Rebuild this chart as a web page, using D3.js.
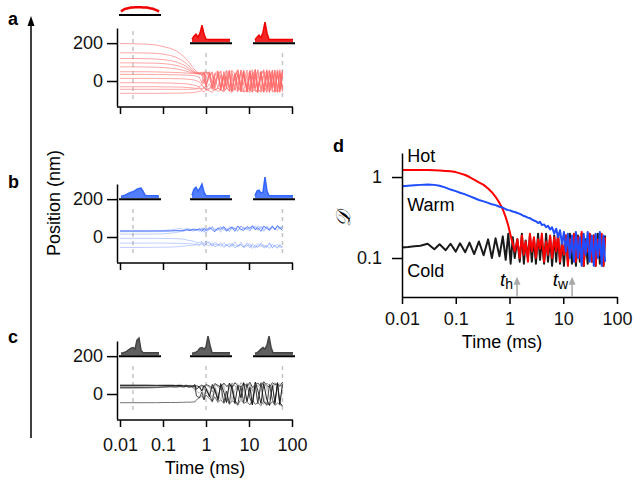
<!DOCTYPE html>
<html>
<head>
<meta charset="utf-8">
<script src="https://cdnjs.cloudflare.com/ajax/libs/d3/7.8.5/d3.min.js"></script>
<style>
body { margin: 0; background: #fff; }
svg { font-family: "Liberation Sans", Arial, sans-serif; }
</style>
</head>
<body>
<svg width="641" height="491"></svg>
<script>
// panels a-c: position traces (nm) on a shared time grid (ms)
const traceTimes = [0.01, 0.02, 0.04, 0.07, 0.1, 0.15, 0.2, 0.25, 0.3, 0.35, 0.4, 0.45, 0.5, 0.55, 0.6,
    0.7, 0.8, 0.9, 1, 1.2, 1.4, 1.6, 1.9, 2.2, 2.6, 3, 3.5, 4, 4.7, 5.5, 6.5, 7.5, 9, 10.5, 12, 14, 16,
    19, 22, 26, 30, 35, 40, 46, 52, 60];

const hotTraces = [
    [198,197,195,190,182,172,160,145,130,115,100,85,70,58,50, 42,30,45,20,50,-10,40,55,-30,45,10,58,-40,35,60,-20,50,-55,40,15,60,-45,30,55,-60,45,-25,58,-50,40,-35],
    [149,149,148,146,142,135,126,115,103,92,80,68,57,49,45, 40,48,35,50,25,45,-15,40,52,-35,30,55,-45,20,58,-30,45,-55,35,60,-40,25,50,-58,42,-20,55,-48,38,60,-30],
    [119,119,118,116,113,108,101,93,85,76,67,58,50,45,42, 38,45,30,48,40,-20,35,50,-40,25,55,-50,40,15,-45,58,30,-60,50,-25,45,-55,35,60,-40,20,55,-58,45,-30,50],
    [96,96,95,94,92,88,83,77,71,65,58,52,47,44,42, 45,35,50,-10,42,30,-35,48,20,-45,55,35,-50,40,-20,58,-55,30,50,-40,60,-30,45,-58,35,55,-45,20,60,-50,40],
    [75,75,74,73,71,68,64,60,56,52,48,45,43,42,40, 35,42,-15,38,45,-30,40,25,-45,50,-20,42,55,-50,35,-40,58,20,-55,45,-35,60,-50,30,55,-60,40,-25,50,-45,58],
    [49,49,49,48,47,46,45,44,43,42,41,40,40,39,38, 40,30,45,-25,35,48,-40,30,52,-45,25,-30,55,40,-55,45,-20,58,-50,35,60,-40,50,-58,25,55,-35,45,-60,40,-50],
    [35,35,35,34,34,33,33,32,32,31,30,30,29,28,25, 20,-10,35,-30,40,-40,25,45,-45,30,-35,50,-50,20,55,-55,40,-25,58,-45,35,-60,50,-30,60,-50,25,-55,45,-40,55],
    [14,14,14,14,13,13,12,12,11,10,9,8,6,4,2, -5,-20,10,-30,25,-40,-15,35,-45,20,-35,40,-50,-25,45,-55,30,-40,50,-58,15,55,-45,-60,40,-30,58,-50,35,-55,50],
    [-9,-9,-9,-10,-10,-11,-12,-13,-14,-15,-17,-19,-21,-23,-25, -30,-20,-35,-40,-15,-45,20,-38,-50,30,-42,-25,-55,40,-45,-30,50,-58,-20,45,-50,-60,35,-40,55,-55,-25,58,-45,-60,40],
    [-30,-30,-30,-30,-31,-31,-32,-32,-33,-34,-35,-36,-37,-38,-39, -35,-42,-30,-45,-38,-20,-48,-35,30,-50,-40,-55,20,-45,-30,-58,45,-50,-35,-60,40,-45,-55,50,-30,-60,35,-50,-40,55,-58],
    [-44,-44,-44,-44,-44,-44,-44,-44,-44,-44,-44,-43,-43,-42,-42, -40,-45,-35,-48,-42,-30,-50,-38,-45,-52,10,-40,-55,-30,35,-50,-58,-40,40,-55,-45,-60,30,-50,-35,55,-58,-45,-60,45,-50],
    [-65,-65,-65,-65,-65,-64,-64,-64,-63,-63,-62,-62,-61,-60,-58, -55,-50,-58,-45,-52,-60,-40,-55,-48,-58,-35,-50,-60,-42,-55,-25,-58,-50,-60,20,-55,-45,-60,-30,-58,40,-52,-60,-45,-58,30]
];

const warmTraces = [
    [32,32,32,32,32,33,34,33,35,38,34,36,40,35,38, 42,30,45,35,50,38,28,48,40,55,32,45,52,30,58,40,35,55,45,60,38,50,30,58,45,35,55,40,60,48,35],
    [15,15,15,16,17,20,24,28,33,38,42,40,36,42,38, 30,45,35,20,42,50,38,45,25,52,40,35,55,45,30,58,42,50,35,55,40,60,45,30,52,38,58,45,35,55,42],
    [-7,-7,-7,-7,-8,-8,-9,-10,-12,-15,-18,-20,-22,-25,-28, -30,-25,-38,-20,-35,-45,-28,-40,-50,-30,-45,-35,-52,-25,-48,-40,-55,-30,-50,-45,-58,-35,-50,-42,-55,-30,-58,-45,-40,-55,-50],
    [-32,-32,-32,-32,-32,-33,-33,-34,-34,-35,-35,-36,-37,-38,-36, -40,-30,-45,-35,-25,-48,-38,-42,-30,-50,-40,-55,-35,-45,-52,-28,-50,-40,-58,-35,-48,-55,-30,-52,-45,-60,-38,-50,-55,-42,-58],
    [-55,-55,-55,-54,-54,-53,-52,-50,-48,-46,-45,-44,-43,-42,-40, -45,-35,-50,-40,-48,-30,-52,-45,-38,-55,-42,-50,-35,-58,-45,-40,-55,-48,-35,-60,-45,-52,-40,-58,-50,-35,-55,-45,-60,-40,-52],
    [32,32,32,33,35,38,42,45,40,46,42,38,44,40,36, 45,38,50,32,44,55,40,35,52,45,30,55,42,48,35,58,45,38,55,42,60,35,50,45,58,40,52,38,60,45,50],
    [28,28,28,28,29,30,32,34,30,36,40,35,30,38,42, 35,48,25,42,38,52,30,45,55,35,48,28,50,42,58,35,52,45,30,55,48,40,58,35,50,45,60,38,55,42,58]
];

const coldTraces = [
    [47,47,47,46,46,46,45,45,44,44,43,43,42,40,44, 38,48,35,50,42,30,55,45,38,58,40,50,32,60,45,38,55,42,62,35,50,58,40,65,45,35,60,48,55,40,62],
    [30,30,31,33,36,40,38,42,36,40,35,38,32,20,45, 30,42,20,48,35,10,50,38,25,55,42,30,58,45,20,60,48,35,55,15,62,40,50,30,58,45,25,60,42,55,35],
    [-46,-46,-46,-46,-45,-45,-45,-44,-44,-43,-43,-43,-42,-42,-30, -20,-10,-30,-5,-25,-40,-15,-45,-30,-50,-20,-55,-35,-45,-60,-25,-50,-40,-58,-30,-55,-45,-62,-35,-50,-58,-40,-60,-48,-55,-65],
    [42,42,43,45,48,50,46,52,44,50,40,48,38,30,15, 5,25,-10,35,10,-20,40,0,-30,45,-15,50,-35,20,55,-40,30,-50,45,-25,58,-45,35,-55,50,-30,60,-50,40,-60,55],
    [35,35,35,36,37,38,37,39,38,40,37,39,36,45,-10, -20,10,-30,25,-5,-40,30,-25,45,-45,15,-50,50,-35,-55,40,-45,55,-20,-58,45,-50,60,-40,-60,50,-30,-55,58,-45,-62],
    [44,44,44,44,44,44,44,44,43,43,43,42,42,50,25, 40,15,45,30,-15,50,20,-35,55,10,-45,58,30,-50,45,-20,60,-40,35,-55,62,20,-50,55,-30,-60,45,-45,60,-55,50]
];

const markerTimes = [0.02, 1, 60];

// position histograms at the three marker times (relative height)
const histHot = [
    [0.12,0.2,0.25,0.28,0.3,0.32,0.33,0.34,0.34,0.34,0.34,0.33,0.33,0.32,0.3,0.28,0.26,0.22,0.18,0.12],
    [0.15,0.3,0.4,0.25,0.45,0.85,0.4,0.15,0.13,0.13,0.13,0.13,0.13,0.13,0.13,0.13,0.13,0.13,0.13,0.13],
    [0.12,0.25,0.35,0.22,0.5,1.0,0.45,0.14,0.13,0.13,0.13,0.13,0.13,0.13,0.13,0.13,0.13,0.13,0.13,0.13]
];
const histWarm = [
    [0.1,0.12,0.15,0.2,0.25,0.3,0.32,0.38,0.45,0.48,0.5,0.35,0.15,0.12,0.12,0.12,0.12,0.12,0.12,0.1],
    [0.15,0.45,0.55,0.35,0.5,0.7,0.3,0.13,0.12,0.12,0.12,0.12,0.12,0.12,0.12,0.12,0.12,0.12,0.12,0.12],
    [0.12,0.35,0.4,0.25,0.3,1.05,0.35,0.12,0.12,0.12,0.12,0.12,0.12,0.12,0.12,0.12,0.12,0.12,0.12,0.12]
];
const histCold = [
    [0.1,0.12,0.15,0.2,0.28,0.35,0.38,0.3,0.75,0.85,0.25,0.12,0.12,0.12,0.12,0.12,0.12,0.12,0.12,0.12],
    [0.1,0.12,0.15,0.22,0.35,0.38,0.3,0.4,0.95,0.5,0.12,0.12,0.12,0.12,0.12,0.12,0.12,0.12,0.12,0.12],
    [0.1,0.12,0.2,0.3,0.38,0.3,0.5,0.95,0.4,0.12,0.12,0.12,0.12,0.12,0.12,0.12,0.12,0.12,0.12,0.12]
];

const posTicks = [0, 200];
const timeTicks = [0.01, 0.1, 1, 10, 100];
const timeLabels = ["0.01", "0.1", "1", "10", "100"];

// panel d
const dTimes = [0.01, 0.013, 0.017, 0.022, 0.03, 0.04, 0.05, 0.065, 0.08, 0.1, 0.12, 0.15, 0.18, 0.22,
    0.27, 0.33, 0.4, 0.47, 0.55, 0.65, 0.75, 0.85, 0.95, 1.05, 1.15, 1.25, 1.4, 1.55, 1.7, 1.85, 2, 2.2,
    2.4, 2.6, 2.85, 3.1, 3.4, 3.7, 4, 4.4, 4.8, 5.2, 5.7, 6.2, 6.8, 7.4, 8, 8.7, 9.5, 10.3, 11.2, 12.2,
    13.3, 14.5, 15.8, 17.2, 18.7, 20.3, 22, 24, 26, 28.5, 31, 34, 37, 40, 44, 48, 52, 56, 60];

const dHot = [1.22,1.22,1.22,1.22,1.22,1.21,1.2,1.19,1.18,1.15,1.11,1.06,1.0,0.93,0.86,0.8,0.72,0.65,
    0.57,0.48,0.4,0.32,0.25,0.19,0.15,
    0.12,0.17,0.1,0.19,0.11,0.16,0.09,0.2,0.12,0.18,0.1,0.17,0.13,0.2,0.09,0.16,0.11,0.19,0.1,0.18,
    0.12,0.2,0.09,0.15,0.11,0.19,0.08,0.17,0.12,0.2,0.09,0.18,0.1,0.21,0.08,0.16,0.12,0.2,0.09,0.19,
    0.08,0.17,0.11,0.2,0.08,0.18];

const dWarm = [0.77,0.78,0.79,0.8,0.81,0.8,0.78,0.74,0.7,0.67,0.64,0.61,0.58,0.55,0.52,0.5,0.48,0.46,
    0.45,0.43,0.42,0.4,0.39,0.385,0.375,0.37,0.36,0.35,0.34,0.33,0.325,0.315,0.31,0.3,0.29,0.285,0.27,
    0.28,0.255,0.26,0.24,0.25,0.225,0.24,0.2,0.23,0.18,0.22,0.15,0.21,0.12,0.2,0.1,0.19,0.09,0.21,0.1,
    0.18,0.08,0.2,0.11,0.21,0.09,0.19,0.08,0.2,0.1,0.21,0.08,0.19,0.09];

const dCold = [0.135,0.137,0.14,0.142,0.15,0.128,0.148,0.125,0.15,0.12,0.152,0.118,0.155,0.112,0.16,
    0.108,0.17,0.1,0.175,0.105,0.185,0.095,0.2,0.085,0.18,0.1,0.17,0.09,0.2,0.085,0.165,0.1,0.19,0.09,
    0.175,0.085,0.2,0.095,0.17,0.085,0.2,0.09,0.18,0.08,0.19,0.09,0.2,0.085,0.17,0.08,0.19,0.09,0.2,
    0.085,0.18,0.08,0.19,0.09,0.2,0.08,0.17,0.085,0.2,0.09,0.19,0.08,0.2,0.085,0.18,0.08,0.19];

const dTicks = [0.1, 1];
const dTickLabels = ["0.1", "1"];
const seriesNames = ["Hot", "Warm", "Cold"];
const arrowTimes = [1.38, 14.6];
const arrowSubs = ["h", "w"];

let svg = d3.select("svg");

let xScale = d3.scaleLog().domain([0.01, 100]).range([120, 292]);
let panelTops = [28, 184, 341];
let plotH = 78;
let insetX = [120, 191, 254];
let coldColors = ["#222", "#999", "#666", "#bbb", "#333", "#111"];

let panels = [
    {letter: "a", traces: hotTraces, hists: histHot, fill: "#f00000"},
    {letter: "b", traces: warmTraces, hists: histWarm, fill: "#3366ff"},
    {letter: "c", traces: coldTraces, hists: histCold, fill: "#444"}
];

let styleAxis = (g) => {
    g.attr("font-size", 18).attr("font-family", null);
    g.selectAll("path, line").attr("stroke", "#000").attr("stroke-width", 1.5);
    g.selectAll("text").attr("fill", "#111");
};

let drawPanel = (p, k) => {
    let top = panelTops[k];
    let yScale = d3.scaleLinear().domain([-132, 280]).range([top + plotH, top]);
    let g = svg.append("g");

    g.selectAll("line.marker")
        .data(markerTimes)
        .enter()
        .append("line")
        .attr("x1", d => xScale(d))
        .attr("x2", d => xScale(d))
        .attr("y1", (d, i) => (k == 0 && i == 0) ? top + 3 : top + 25)
        .attr("y2", top + plotH - 6)
        .attr("stroke", "#c4c4c4")
        .attr("stroke-width", 1.5)
        .attr("stroke-dasharray", "4,4");

    let line = d3.line()
        .x((d, i) => xScale(traceTimes[i]))
        .y(d => yScale(d));

    g.selectAll("path.trace")
        .data(p.traces)
        .enter()
        .append("path")
        .attr("d", d => line(d.slice(0, traceTimes.length)))
        .attr("fill", "none")
        .attr("stroke-width", 1)
        .attr("stroke", (d, i) => {
            if (k == 0) return "#ff6a6a";
            if (k == 1) return "#2f5fff";
            return coldColors[i % coldColors.length];
        })
        .attr("stroke-opacity", (d, i) => {
            if (k == 0) return 0.6;
            if (k == 1) return i == 0 ? 0.75 : 0.3;
            return 0.9;
        });

    // histogram insets
    p.hists.forEach((h, j) => {
        let base = (k == 0 && j == 0) ? top - 13 : yScale(200);
        let hx = d3.scaleLinear().domain([0, h.length - 1]).range([insetX[j] + 1, insetX[j] + 39]);
        let hy = d3.scaleLinear().domain([0, 1]).range([base - 1, base - 21]);
        let isArc = (k == 0 && j == 0);
        let area = d3.area().x((d, i) => hx(i)).y0(base - 1).y1(d => hy(d));
        let outline = d3.line().x((d, i) => hx(i)).y(d => hy(d));
        if (!isArc) {
            g.append("path").attr("d", area(h)).attr("fill", p.fill).attr("fill-opacity", 0.85);
        }
        g.append("path")
            .attr("d", outline(h))
            .attr("fill", "none")
            .attr("stroke", p.fill)
            .attr("stroke-width", isArc ? 2.5 : 1.5);
        g.append("line")
            .attr("x1", insetX[j] - 1)
            .attr("x2", insetX[j] + 41)
            .attr("y1", base)
            .attr("y2", base)
            .attr("stroke", "#000")
            .attr("stroke-width", 2);
    });

    let yAxis = d3.axisLeft(yScale).tickValues(posTicks).tickSize(10).tickPadding(4).tickSizeOuter(0);
    g.append("g")
        .attr("transform", "translate(117,0)")
        .call(yAxis)
        .call(styleAxis);

    let xAxis = d3.axisBottom(xScale)
        .tickValues(timeTicks)
        .tickSize(7)
        .tickPadding(11)
        .tickSizeOuter(0)
        .tickFormat((d, i) => k == 2 ? timeLabels[i] : "");
    g.append("g")
        .attr("transform", "translate(0," + (top + plotH + 1) + ")")
        .call(xAxis)
        .call(styleAxis)
        .call(a => a.select(".domain").attr("d", "M117,0H" + (xScale(100) + 1)));

    svg.append("text")
        .attr("x", 8)
        .attr("y", [25, 188, 343][k])
        .attr("font-size", 18)
        .attr("font-weight", "bold")
        .text(p.letter);
};

panels.forEach(drawPanel);

// left labels
svg.append("line")
    .attr("x1", 31).attr("x2", 31)
    .attr("y1", 438).attr("y2", 24)
    .attr("stroke", "#000").attr("stroke-width", 1.5);
svg.append("path")
    .attr("d", "M31,16L27.5,26L34.5,26Z")
    .attr("fill", "#000");

svg.append("text")
    .attr("transform", "translate(60,203) rotate(-90)")
    .attr("text-anchor", "middle")
    .attr("font-size", 18)
    .text("Position (nm)");

svg.append("text")
    .attr("x", 205)
    .attr("y", 474)
    .attr("text-anchor", "middle")
    .attr("font-size", 18)
    .text("Time (ms)");

// panel d
let xD = d3.scaleLog().domain([0.01, 100]).range([402, 617]);
let yD = d3.scaleLog().domain([0.033, 1.98]).range([297, 153]);

let dLine = d3.line()
    .x((d, i) => xD(dTimes[i]))
    .y(d => yD(d));

let dSeries = [
    {values: dCold, color: "#1a1a1a"},
    {values: dHot, color: "#ff0000"},
    {values: dWarm, color: "#1f4dff"}
];

svg.append("g")
    .selectAll("path")
    .data(dSeries)
    .enter()
    .append("path")
    .attr("d", d => dLine(d.values.slice(0, dTimes.length)))
    .attr("fill", "none")
    .attr("stroke", d => d.color)
    .attr("stroke-width", 2)
    .attr("stroke-linejoin", "round");

let dxAxis = d3.axisBottom(xD)
    .tickValues(timeTicks)
    .tickSize(7)
    .tickPadding(8)
    .tickSizeOuter(0)
    .tickFormat((d, i) => timeLabels[i]);
svg.append("g")
    .attr("transform", "translate(0,297)")
    .call(dxAxis)
    .call(styleAxis);

let dyAxis = d3.axisLeft(yD)
    .tickValues(dTicks)
    .tickSize(10)
    .tickPadding(10)
    .tickSizeOuter(0)
    .tickFormat((d, i) => dTickLabels[i]);
svg.append("g")
    .attr("transform", "translate(402,0)")
    .call(dyAxis)
    .call(styleAxis);

let labelY = [1.55, 0.38, 0.058];
svg.selectAll("text.series")
    .data(seriesNames)
    .enter()
    .append("text")
    .attr("x", xD(0.0125))
    .attr("y", (d, i) => yD(labelY[i]))
    .attr("font-size", 18)
    .text(d => d);

arrowTimes.forEach((t, i) => {
    let ax = xD(t);
    svg.append("line")
        .attr("x1", ax).attr("x2", ax)
        .attr("y1", yD(0.033)).attr("y2", yD(0.055))
        .attr("stroke", "#a8a8a8").attr("stroke-width", 1.5);
    svg.append("path")
        .attr("d", "M" + ax + "," + (yD(0.057) - 1) + "l-3.5,8h7z")
        .attr("fill", "#a8a8a8");
    let lab = svg.append("text")
        .attr("x", ax - 4)
        .attr("y", yD(0.045))
        .attr("text-anchor", "end")
        .attr("font-size", 19);
    lab.append("tspan").attr("font-style", "italic").text("t");
    lab.append("tspan").attr("dy", 3).attr("font-size", 14).text(arrowSubs[i]);
});

svg.append("text")
    .attr("transform", "translate(350,219) rotate(-90)")
    .attr("text-anchor", "middle")
    .attr("font-size", 20)
    .attr("font-style", "italic")
    .attr("font-family", "'DejaVu Serif', serif")
    .text("𝒟");

svg.append("text")
    .attr("x", 502)
    .attr("y", 348)
    .attr("text-anchor", "middle")
    .attr("font-size", 18)
    .text("Time (ms)");

svg.append("text")
    .attr("x", 333)
    .attr("y", 152)
    .attr("font-size", 18)
    .attr("font-weight", "bold")
    .text("d");
</script>
</body>
</html>
